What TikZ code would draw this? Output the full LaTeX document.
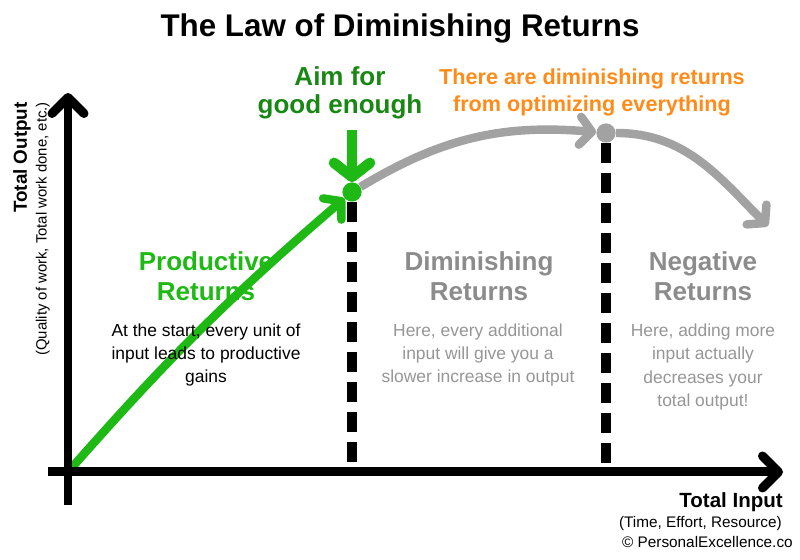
\documentclass[tikz,border=0pt]{standalone}
\usepackage{fontspec}
\setmainfont{Liberation Sans}
\usepackage{xcolor}
\usepackage{tikz}
\usetikzlibrary{arrows.meta}

\definecolor{prodgreen}{RGB}{30,185,20}
\definecolor{aimgreen}{RGB}{25,135,20}
\definecolor{optorange}{RGB}{255,140,26}
\definecolor{fadegray}{RGB}{140,140,140}
\definecolor{notegray}{RGB}{150,150,150}
\definecolor{curvegray}{RGB}{162,162,162}

\begin{document}
\begin{tikzpicture}[
    axis/.style={line width=6.4pt, -{Straight Barb[round, length=4mm, width=8mm]}},
    growth/.style={line width=6pt, prodgreen, -{Straight Barb[round, length=3mm, width=7mm]}},
    pointer/.style={line width=7.5pt, prodgreen, -{Straight Barb[round, length=3.5mm, width=9mm]}},
    fade/.style={line width=6pt, curvegray, -{Straight Barb[round, length=3mm, width=7mm]}},
    divider/.style={line width=7pt, dash pattern=on 0.5cm off 0.25cm},
    dot/.style={circle, minimum size=0.48cm, inner sep=0pt},
    heading/.style={font=\fontsize{18.5}{21.5}\selectfont\bfseries, align=center, inner sep=0pt},
    note/.style={font=\fontsize{12.4}{16.4}\selectfont, align=center, inner sep=0pt},
  ]
    \useasboundingbox (0,0) rectangle (20,14);

    % Title
    \node[font=\fontsize{22.3}{26}\selectfont\bfseries, inner sep=0pt] (title) at (10, 13.28)
      {The Law of Diminishing Returns};

    % Anchor points
    \coordinate (O) at (1.7, 2.2);
    \coordinate (ybot) at (1.7, 1.375);
    \coordinate (ytop) at (1.7, 11.675);
    \coordinate (xleft) at (1.2, 2.2);
    \coordinate (xright) at (19.575, 2.2);
    \coordinate (aimtop) at (8.8, 10.75);
    \coordinate (drop) at (19.2, 8.35);
    \coordinate (base1) at (8.8, 2.35);
    \coordinate (base2) at (15.15, 2.3);

    % Dots on the curve
    \node[dot, fill=prodgreen] (aim) at (8.8, 9.2) {};
    \node[dot, fill=curvegray] (peak) at (15.15, 10.675) {};

    % Dividers
    \draw[divider] (aim.south) -- (base1);
    \draw[divider] (peak.south) -- (base2);

    % Curve
    \draw[growth] (O) to[bend left=4] (aim);
    \draw[fade] (aim) to[bend left=18] (peak);
    \draw[fade] (peak) to[out=0, in=135] (drop);
    \draw[pointer] (aimtop) -- (aim);

    % Axes
    \draw[axis] (ybot) -- (ytop);
    \draw[axis] (xleft) -- (xright);

    % Callouts
    \node[font=\fontsize{18.5}{19.9}\selectfont\bfseries, align=center, inner sep=0pt, aimgreen]
      (aimtext) at (8.5, 11.68) {Aim for\\good enough};
    \node[font=\fontsize{15.4}{19.2}\selectfont\bfseries, align=center, inner sep=0pt, optorange]
      (opttext) at (14.8, 11.68) {There are diminishing returns\\from optimizing everything};

    % Zones
    \node[heading, prodgreen] (prodhead) at (5.15, 7.1) {Productive\\Returns};
    \node[note] (prodnote) at (5.15, 5.125) {At the start, every unit of\\input leads to productive\\gains};
    \node[heading, fadegray] (dimhead) at (11.975, 7.1) {Diminishing\\Returns};
    \node[note, notegray] (dimnote) at (11.95, 5.115) {Here, every additional\\input will give you a\\slower increase in output};
    \node[heading, fadegray] (neghead) at (17.575, 7.1) {Negative\\Returns};
    \node[note, notegray] (negnote) at (17.575, 4.825) {Here, adding more\\input actually\\decreases your\\total output!};

    % Axis labels
    \node[font=\fontsize{13.4}{16}\selectfont\bfseries, rotate=90, anchor=east, inner sep=0pt]
      (ylabel) at (0.55, 11.45) {Total Output};
    \node[font=\fontsize{10.6}{12}\selectfont, rotate=90, anchor=east, inner sep=0pt]
      (ysub) at (1.07, 11.45) {(Quality of work, Total work done, etc.)};
    \node[font=\fontsize{14.6}{17}\selectfont\bfseries, anchor=base east, inner sep=0pt]
      (xlabel) at (19.575, 1.3) {Total Input};
    \node[font=\fontsize{10.9}{13}\selectfont, anchor=base east, inner sep=0pt]
      (xsub) at (19.55, 0.8) {(Time, Effort, Resource)};
    \node[font=\fontsize{10.9}{13}\selectfont, anchor=base east, inner sep=0pt]
      (credit) at (19.825, 0.3) {© PersonalExcellence.co};
  \end{tikzpicture}
\end{document}
